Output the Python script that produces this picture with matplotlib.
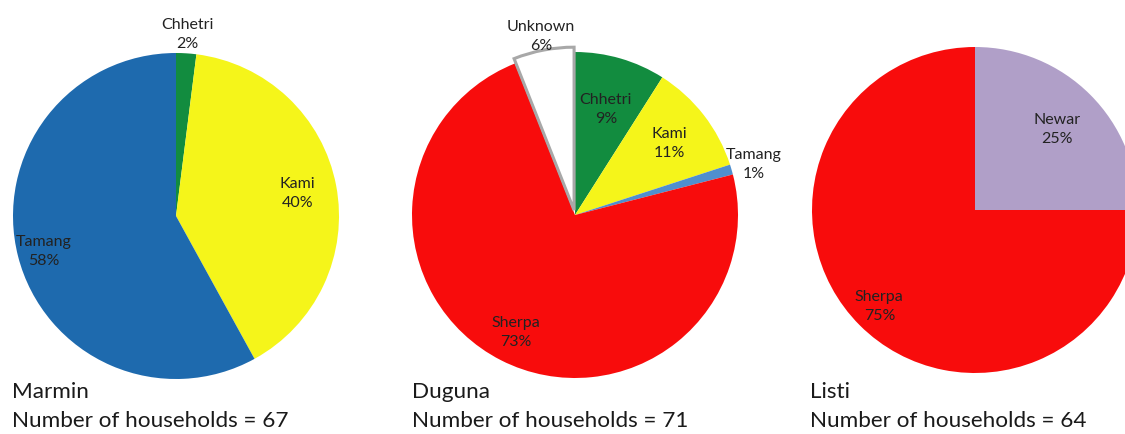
import numpy as np
import matplotlib.pyplot as plt

plt.rcParams['font.family'] = ['Lato', 'DejaVu Sans']

# data
villages = ["Marmin", "Duguna", "Listi"]
households = [67, 71, 64]

marmin_labels = ["Chhetri", "Kami", "Tamang"]
marmin_pct = [2, 40, 58]
duguna_labels = ["Chhetri", "Kami", "Tamang", "Sherpa", "Unknown"]
duguna_pct = [9, 11, 1, 73, 6]
listi_labels = ["Newar", "Sherpa"]
listi_pct = [25, 75]

# styling
colors = {"Chhetri": "#128c3f", "Kami": "#f5f51a", "Tamang": "#1e6aae",
          "Sherpa": "#f80c0c", "Unknown": "#ffffff", "Newar": "#b09fc8"}
tamang_duguna = "#4f8fce"

pies = [
    (marmin_labels, marmin_pct, [1.12, 0.76, 0.84], [0, 0, 0]),
    (duguna_labels, duguna_pct, [0.68, 0.73, 1.14, 0.8, 1.12], [0, 0, 0, 0, 0.03]),
    (listi_labels, listi_pct, [0.71, 0.83], [0, 0]),
]
centers_px = [(176, 218), (575, 219), (975, 224)]  # (x, y from bottom)
R = 163

W, H = 1125, 435
fig = plt.figure(figsize=(W / 100, H / 100), dpi=100)

for i, (labs, pct, lrad, expl) in enumerate(pies):
    cx, cy = centers_px[i]
    ax = fig.add_axes([(cx - R) / W, (cy - R) / H, 2 * R / W, 2 * R / H])
    cols = [colors[l] for l in labs]
    if i == 1:
        cols[2] = tamang_duguna
    wedges, _ = ax.pie(pct, colors=cols, startangle=90, counterclock=False,
                       explode=expl, radius=1.0,
                       wedgeprops=dict(linewidth=0))
    for w, l, p, r in zip(wedges, labs, pct, lrad):
        if l == "Unknown":
            w.set_edgecolor("#a8a8a8")
            w.set_linewidth(2.2)
        th = np.deg2rad((w.theta1 + w.theta2) / 2)
        ax.text(r * np.cos(th), r * np.sin(th), f"{l}\n{p}%", ha="center",
                va="center", fontsize=11.5, color="#222222", linespacing=1.45)
    ax.set_xlim(-1, 1)
    ax.set_ylim(-1, 1)
    ax.set_aspect("equal")
    ax.axis("off")
    for a in ax.patches + ax.texts:
        a.set_clip_on(False)

title_x = [12, 412, 810]
for x, v, n in zip(title_x, villages, households):
    fig.text(x / W, 1 - 392 / H, v, fontsize=16.2, va="center", ha="left",
             color="#1a1a1a")
    fig.text(x / W, 1 - 421 / H, f"Number of households = {n}", fontsize=16.2,
             va="center", ha="left", color="#1a1a1a")

fig.savefig("out.png", dpi=100)
